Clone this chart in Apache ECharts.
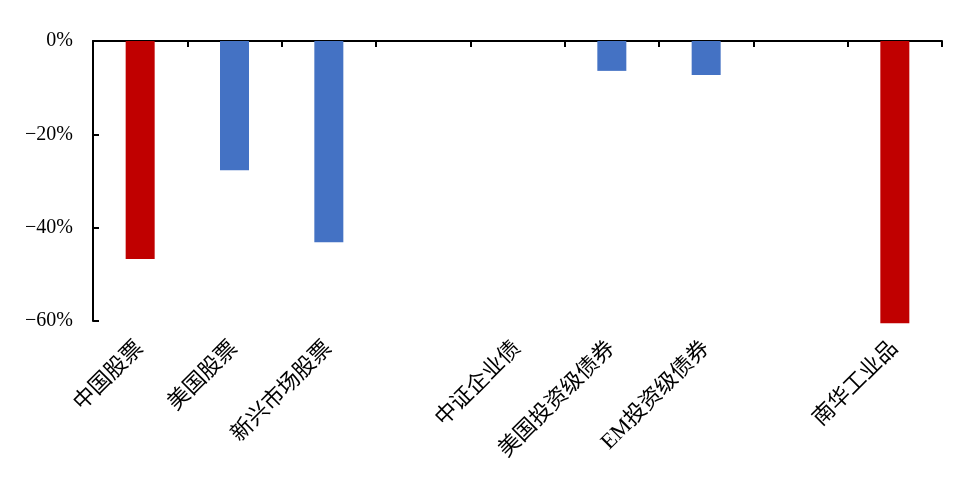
<!DOCTYPE html>
<html>
<head>
<meta charset="utf-8">
<script src="https://cdn.jsdelivr.net/npm/echarts@6/dist/echarts.min.js"></script>
<style>
  html, body { margin: 0; padding: 0; background: #fff; }
  #chart { width: 959px; height: 477px; }
</style>
</head>
<body>
<div id="chart"></div>
<script>
const categories = ["中国股票", "美国股票", "新兴市场股票", " ", "中证企业债", "美国投资级债券", "EM投资级债券", "  ", "南华工业品"];
const values = [-46.7, -27.7, -43.1, null, 0, -6.4, -7.3, null, -60.5];
const barColors = ["#C00000", "#4472C4", "#4472C4", "#4472C4", "#4472C4", "#4472C4", "#4472C4", "#4472C4", "#C00000"];
const yTicks = [0, -20, -40, -60];

const serif = '"Liberation Serif", "Noto Sans CJK SC", serif';

const chart = echarts.init(document.getElementById("chart"), null, { renderer: "canvas" });

const option = {
  animation: false,
  grid: { left: 93, right: 17, top: 41, bottom: 156, containLabel: false },
  xAxis: [
    {
      // top axis line with inner ticks
      type: "category",
      position: "top",
      data: categories,
      axisLine: { show: true, lineStyle: { color: "#000", width: 2 } },
      axisTick: { show: true, inside: true, interval: 0, length: 6, lineStyle: { color: "#000", width: 2 } },
      axisLabel: { show: false, interval: 0 },
    },
    {
      // bottom labels only
      type: "category",
      position: "bottom",
      data: categories,
      axisLine: { show: false },
      axisTick: { show: false },
      axisLabel: {
        interval: 0,
        rotate: 45,
        margin: 24,
        fontFamily: serif,
        fontSize: 22,
        color: "#000",
      },
    },
  ],
  yAxis: {
    type: "value",
    min: -60,
    max: 0,
    interval: 20,
    axisLine: { show: true, lineStyle: { color: "#000", width: 2 } },
    axisTick: { show: true, inside: true, length: 6, lineStyle: { color: "#000", width: 2 } },
    splitLine: { show: false },
    axisLabel: {
      margin: 20,
      fontFamily: serif,
      fontSize: 20,
      color: "#000",
      padding: [4, 0, 0, 0],
      formatter: v => (yTicks.includes(v) ? (v < 0 ? "\u2212" + Math.abs(v) : v) + "%" : ""),
    },
  },
  series: [
    {
      type: "bar",
      xAxisIndex: 0,
      barWidth: 29,
      clip: false,
      data: values.map((v, i) => ({ value: v, itemStyle: { color: barColors[i] } })),
    },
  ],
};

chart.setOption(option);
</script>
</body>
</html>
